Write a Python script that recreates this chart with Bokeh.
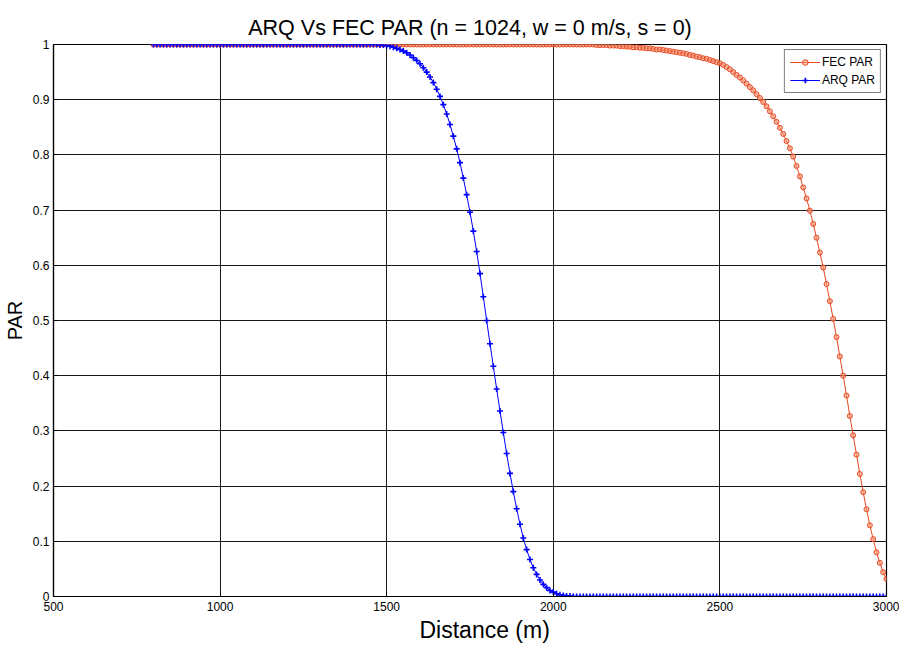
from bokeh.plotting import figure
from bokeh.models import Range1d, FixedTicker, Legend, LegendItem, Title
from bokeh.embed import file_html
from bokeh.resources import INLINE

# Distance samples (m), every 10 m from 800 to 3000
distance = list(range(800, 3001, 10))

# ARQ packet acceptance rate
arq_par = (
    [1.0] * 68                                                     # 800 .. 1470
    + [0.999, 0.999, 0.998, 0.997, 0.995, 0.993,                   # 1480 .. 1530
       0.991, 0.988, 0.985, 0.981, 0.976, 0.971, 0.965, 0.958,     # 1540 .. 1610
       0.950, 0.941, 0.931, 0.919, 0.906, 0.891, 0.874, 0.855,     # 1620 .. 1690
       0.834, 0.811, 0.786, 0.758, 0.728, 0.696, 0.662, 0.625,     # 1700 .. 1770
       0.585, 0.543, 0.500, 0.458, 0.417, 0.376, 0.336, 0.297,     # 1780 .. 1850
       0.259, 0.223, 0.190, 0.159, 0.131, 0.106, 0.085, 0.067,     # 1860 .. 1930
       0.052, 0.040, 0.030, 0.022, 0.016, 0.011, 0.008, 0.005,     # 1940 .. 2010
       0.003, 0.002, 0.001, 0.001]                                 # 2020 .. 2050
    + [0.0] * 95                                                   # 2060 .. 3000
)

# FEC packet acceptance rate
fec_par = (
    [1.0] * 133                                                    # 800 .. 2120
    + [0.999, 0.999, 0.999, 0.999, 0.998, 0.998, 0.998, 0.997,     # 2130 .. 2200
       0.997, 0.996, 0.996, 0.995, 0.995, 0.994, 0.994, 0.993,     # 2210 .. 2280
       0.993, 0.992, 0.991, 0.991, 0.990, 0.989, 0.988, 0.987,     # 2290 .. 2360
       0.986, 0.985, 0.984, 0.983, 0.981, 0.980, 0.978, 0.977,     # 2370 .. 2440
       0.975, 0.974, 0.972, 0.970, 0.968, 0.966, 0.963, 0.959,     # 2450 .. 2520
       0.955, 0.950, 0.945, 0.940, 0.935, 0.929, 0.923, 0.917,     # 2530 .. 2600
       0.910, 0.903, 0.896, 0.888, 0.879, 0.870, 0.860, 0.849,     # 2610 .. 2680
       0.838, 0.825, 0.812, 0.797, 0.780, 0.761, 0.741, 0.721,     # 2690 .. 2760
       0.699, 0.675, 0.650, 0.623, 0.596, 0.566, 0.535, 0.503,     # 2770 .. 2840
       0.470, 0.435, 0.400, 0.364, 0.327, 0.292, 0.257, 0.222,     # 2850 .. 2920
       0.189, 0.158, 0.129, 0.104, 0.080, 0.061, 0.044, 0.032]     # 2930 .. 3000
)

x_ticks = [500, 1000, 1500, 2000, 2500, 3000]
y_ticks = [0, 0.1, 0.2, 0.3, 0.4, 0.5, 0.6, 0.7, 0.8, 0.9, 1]
y_tick_labels = ["0", "0.1", "0.2", "0.3", "0.4", "0.5", "0.6", "0.7", "0.8", "0.9", "1"]

FONT = "'Liberation Sans Narrow', 'Arial Narrow', 'Liberation Sans', sans-serif"
FEC_COLOR = "#E9481F"
ARQ_COLOR = "#0000FF"

p = figure(width=899, height=648, output_backend="svg", toolbar_location=None,
           x_range=Range1d(500, 3000), y_range=Range1d(0, 1),
           min_border_left=50, min_border_right=13, min_border_top=44,
           min_border_bottom=52)

p.title.text = "ARQ Vs FEC PAR (n = 1024, w = 0 m/s, s = 0)"
p.title.align = "center"
p.title.text_font = FONT
p.title.text_font_size = "21.5px"
p.title.text_font_style = "normal"
p.title.text_color = "black"

p.background_fill_color = "white"
p.border_fill_color = "white"
p.outline_line_color = "black"
p.outline_line_width = 1.2

for ax in (p.xaxis[0], p.yaxis[0]):
    ax.major_tick_in = 4
    ax.major_tick_out = 0
    ax.minor_tick_in = 0
    ax.minor_tick_out = 0
    ax.axis_line_color = "black"
    ax.axis_line_width = 1.2
    ax.major_label_text_font = FONT
    ax.major_label_text_font_size = "12px"
    ax.major_label_text_color = "black"
    ax.axis_label_text_font = FONT
    ax.axis_label_text_font_style = "normal"
    ax.axis_label_text_color = "black"

p.xaxis.ticker = FixedTicker(ticks=x_ticks)
p.yaxis.ticker = FixedTicker(ticks=y_ticks)
p.yaxis.major_label_overrides = {t: s for t, s in zip(y_ticks, y_tick_labels)}
p.yaxis.axis_label = "PAR"
p.yaxis.axis_label_text_font_size = "20px"
p.xaxis.major_label_standoff = 5
p.yaxis.major_label_standoff = 4
p.yaxis.axis_label_standoff = 4

# x-axis title as a panel below the axis, starting a little right of centre
xlabel = Title(text="Distance (m)", align="left", offset=366,
               text_font=FONT, text_font_size="23px", text_font_style="normal",
               text_color="black", standoff=2)
p.add_layout(xlabel, "below")

p.xgrid.ticker = FixedTicker(ticks=x_ticks)
p.ygrid.ticker = FixedTicker(ticks=y_ticks)
for g in (p.xgrid[0], p.ygrid[0]):
    g.grid_line_color = "black"
    g.grid_line_alpha = 0.9
    g.grid_line_width = 1

fec_line = p.line(distance, fec_par, line_color=FEC_COLOR, line_width=1)
fec_pts = p.scatter(distance, fec_par, marker="circle", size=5, line_color=FEC_COLOR,
                    fill_color="#F59A7C", fill_alpha=0.6, line_width=1)
arq_line = p.line(distance, arq_par, line_color=ARQ_COLOR, line_width=1)
arq_pts = p.scatter(distance, arq_par, marker="cross", size=6, line_color=ARQ_COLOR,
                    line_width=1.6)

legend = Legend(items=[LegendItem(label="FEC PAR", renderers=[fec_line, fec_pts]),
                       LegendItem(label="ARQ PAR", renderers=[arq_line, arq_pts])],
                location="top_right")
legend.label_text_font = FONT
legend.label_text_font_size = "12px"
legend.label_text_color = "black"
legend.border_line_color = "black"
legend.border_line_width = 1.2
legend.background_fill_color = "white"
legend.background_fill_alpha = 1
legend.glyph_width = 30
legend.glyph_height = 14
legend.label_standoff = 2
legend.spacing = 4
legend.padding = 5
legend.margin = 5
legend.label_height = 14
p.add_layout(legend, "center")

open("out.html", "w").write(file_html(p, INLINE))
